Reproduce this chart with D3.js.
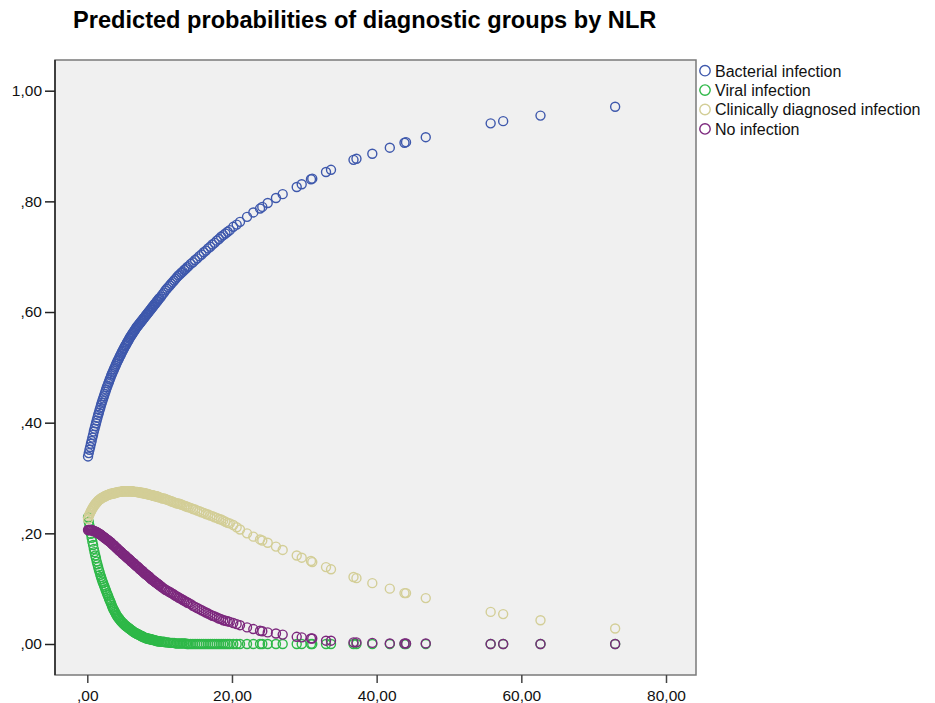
<!DOCTYPE html>
<html>
<head>
<meta charset="utf-8">
<script src="https://cdn.jsdelivr.net/npm/d3@7"></script>
<style>
  html, body { margin: 0; padding: 0; background: #ffffff; }
  svg { display: block; font-family: 'Liberation Sans', Arial, sans-serif; }
</style>
</head>
<body>
<svg width="935" height="703"></svg>
<script>
// NLR value of each patient (shared by the four predicted probabilities)
const nlr = [
  0.1, 0.2, 0.3, 0.4, 0.5, 0.6, 0.7, 0.8, 0.9, 1.0,
  1.1, 1.2, 1.3, 1.4, 1.5, 1.6, 1.7, 1.8, 1.9, 2.0,
  2.1, 2.2, 2.3, 2.4, 2.5, 2.6, 2.7, 2.8, 2.9, 3.0,
  3.1, 3.2, 3.3, 3.4, 3.5, 3.6, 3.7, 3.8, 3.9, 4.0,
  4.1, 4.2, 4.3, 4.4, 4.5, 4.6, 4.7, 4.8, 4.9, 5.0,
  5.1, 5.2, 5.3, 5.4, 5.5, 5.6, 5.7, 5.8, 5.9, 6.0,
  6.1, 6.2, 6.3, 6.4, 6.5, 6.6, 6.7, 6.8, 6.9, 7.0,
  7.1, 7.2, 7.3, 7.4, 7.5, 7.6, 7.7, 7.8, 7.9, 8.0,
  8.1, 8.2, 8.3, 8.4, 8.5, 8.6, 8.7, 8.8, 8.9, 9.0,
  9.1, 9.2, 9.3, 9.4, 9.5, 9.6, 9.7, 9.8, 9.9, 10.0,
  10.2, 10.4, 10.6, 10.8, 11.0, 11.2, 11.4, 11.6, 11.8, 12.0,
  12.2, 12.4, 12.6, 12.8, 13.0, 13.2, 13.4, 13.6, 13.8, 14.0,
  14.3, 14.6, 14.9, 15.2, 15.5, 15.8, 16.1, 16.4, 16.7, 17.0,
  17.3, 17.6, 17.9, 18.2, 18.5, 18.8, 19.1, 19.4, 19.7,
  20.18, 20.65, 21.11, 22.08, 22.95, 23.88, 24.19, 24.94, 26.08, 27.01,
  28.95, 29.64, 30.92, 31.10, 33.0, 33.69, 36.8, 37.21, 39.4, 41.82,
  43.85, 44.06, 46.79, 55.76, 57.49, 62.65, 72.97
];

const pBacterial = [
  0.339, 0.345, 0.351, 0.356, 0.362, 0.367, 0.373, 0.378, 0.384, 0.389,
  0.394, 0.399, 0.404, 0.409, 0.414, 0.418, 0.423, 0.427, 0.432, 0.436,
  0.440, 0.444, 0.448, 0.452, 0.456, 0.460, 0.464, 0.467, 0.471, 0.474,
  0.478, 0.481, 0.485, 0.488, 0.491, 0.494, 0.497, 0.500, 0.503, 0.506,
  0.509, 0.512, 0.514, 0.517, 0.520, 0.522, 0.525, 0.528, 0.530, 0.533,
  0.535, 0.538, 0.540, 0.542, 0.545, 0.547, 0.549, 0.552, 0.554, 0.556,
  0.558, 0.560, 0.562, 0.564, 0.566, 0.568, 0.570, 0.572, 0.574, 0.575,
  0.577, 0.579, 0.580, 0.582, 0.584, 0.585, 0.587, 0.589, 0.590, 0.592,
  0.594, 0.595, 0.597, 0.599, 0.600, 0.602, 0.604, 0.605, 0.607, 0.609,
  0.610, 0.612, 0.614, 0.615, 0.617, 0.619, 0.620, 0.622, 0.624, 0.625,
  0.628, 0.632, 0.635, 0.639, 0.642, 0.645, 0.648, 0.651, 0.654, 0.657,
  0.660, 0.663, 0.666, 0.668, 0.671, 0.673, 0.676, 0.678, 0.681, 0.683,
  0.687, 0.690, 0.694, 0.697, 0.701, 0.704, 0.708, 0.711, 0.715, 0.718,
  0.722, 0.725, 0.729, 0.732, 0.736, 0.739, 0.742, 0.745, 0.748,
  0.754, 0.758, 0.763, 0.772, 0.780, 0.787, 0.790, 0.797, 0.806, 0.813,
  0.826, 0.831, 0.840, 0.841, 0.853, 0.857, 0.875, 0.877, 0.886, 0.897,
  0.906, 0.907, 0.916, 0.941, 0.945, 0.955, 0.971
];

const pViral = [
  0.229, 0.221, 0.214, 0.206, 0.199, 0.192, 0.185, 0.179, 0.172, 0.166,
  0.160, 0.155, 0.149, 0.144, 0.139, 0.134, 0.130, 0.125, 0.121, 0.117,
  0.113, 0.110, 0.106, 0.103, 0.099, 0.096, 0.092, 0.089, 0.086, 0.082,
  0.079, 0.076, 0.073, 0.069, 0.066, 0.063, 0.061, 0.058, 0.056, 0.053,
  0.051, 0.049, 0.047, 0.046, 0.044, 0.042, 0.041, 0.039, 0.038, 0.037,
  0.035, 0.034, 0.033, 0.032, 0.031, 0.030, 0.029, 0.028, 0.027, 0.026,
  0.025, 0.024, 0.023, 0.022, 0.021, 0.020, 0.020, 0.019, 0.018, 0.018,
  0.017, 0.016, 0.016, 0.015, 0.014, 0.014, 0.013, 0.012, 0.012, 0.011,
  0.011, 0.010, 0.010, 0.010, 0.009, 0.009, 0.009, 0.008, 0.008, 0.008,
  0.007, 0.007, 0.007, 0.006, 0.006, 0.006, 0.005, 0.005, 0.005, 0.005,
  0.004, 0.004, 0.004, 0.003, 0.003, 0.003, 0.002, 0.002, 0.002, 0.002,
  0.001, 0.001, 0.001, 0.001, 0.001, 0.001, 0.001, 0.001, 0, 0,
  0, 0, 0, 0, 0, 0, 0, 0, 0, 0,
  0, 0, 0, 0, 0, 0, 0, 0, 0,
  0, 0, 0, 0, 0, 0, 0, 0, 0, 0,
  0, 0, 0, 0, 0, 0, 0, 0, 0, 0,
  0, 0, 0, 0, 0, 0, 0
];

const pClinical = [
  0.226, 0.231, 0.234, 0.237, 0.240, 0.242, 0.245, 0.247, 0.249, 0.251,
  0.253, 0.254, 0.256, 0.257, 0.259, 0.260, 0.261, 0.262, 0.263, 0.264,
  0.265, 0.265, 0.266, 0.267, 0.267, 0.268, 0.269, 0.269, 0.270, 0.270,
  0.271, 0.271, 0.271, 0.272, 0.272, 0.272, 0.273, 0.273, 0.273, 0.274,
  0.274, 0.274, 0.275, 0.275, 0.275, 0.275, 0.275, 0.276, 0.276, 0.276,
  0.276, 0.276, 0.276, 0.276, 0.276, 0.276, 0.276, 0.276, 0.276, 0.276,
  0.276, 0.276, 0.276, 0.275, 0.275, 0.275, 0.275, 0.275, 0.275, 0.274,
  0.274, 0.274, 0.274, 0.274, 0.273, 0.273, 0.273, 0.273, 0.272, 0.272,
  0.272, 0.271, 0.271, 0.271, 0.270, 0.270, 0.270, 0.269, 0.269, 0.269,
  0.268, 0.268, 0.268, 0.267, 0.267, 0.267, 0.266, 0.266, 0.265, 0.265,
  0.264, 0.263, 0.263, 0.262, 0.261, 0.260, 0.259, 0.258, 0.257, 0.256,
  0.255, 0.254, 0.254, 0.253, 0.252, 0.251, 0.250, 0.249, 0.248, 0.247,
  0.246, 0.244, 0.243, 0.241, 0.240, 0.238, 0.237, 0.235, 0.234, 0.232,
  0.231, 0.229, 0.228, 0.226, 0.225, 0.223, 0.221, 0.219, 0.218,
  0.215, 0.211, 0.207, 0.200, 0.194, 0.189, 0.187, 0.183, 0.176, 0.170,
  0.160, 0.156, 0.150, 0.148, 0.139, 0.135, 0.121, 0.119, 0.110, 0.100,
  0.092, 0.092, 0.083, 0.058, 0.054, 0.043, 0.028
];

const pNone = [
  0.206, 0.206, 0.206, 0.206, 0.206, 0.206, 0.205, 0.205, 0.204, 0.204,
  0.203, 0.203, 0.202, 0.201, 0.200, 0.200, 0.199, 0.198, 0.197, 0.196,
  0.195, 0.194, 0.193, 0.192, 0.191, 0.190, 0.189, 0.188, 0.187, 0.186,
  0.185, 0.184, 0.183, 0.181, 0.180, 0.179, 0.178, 0.177, 0.175, 0.174,
  0.173, 0.172, 0.170, 0.169, 0.168, 0.167, 0.166, 0.164, 0.163, 0.162,
  0.161, 0.160, 0.159, 0.157, 0.156, 0.155, 0.154, 0.153, 0.152, 0.150,
  0.149, 0.148, 0.147, 0.146, 0.145, 0.143, 0.142, 0.141, 0.140, 0.139,
  0.138, 0.136, 0.135, 0.134, 0.133, 0.132, 0.131, 0.129, 0.128, 0.127,
  0.126, 0.125, 0.124, 0.123, 0.122, 0.121, 0.119, 0.118, 0.117, 0.116,
  0.115, 0.114, 0.113, 0.112, 0.111, 0.110, 0.109, 0.108, 0.107, 0.106,
  0.104, 0.102, 0.100, 0.098, 0.097, 0.095, 0.094, 0.092, 0.091, 0.089,
  0.087, 0.086, 0.084, 0.083, 0.081, 0.080, 0.078, 0.077, 0.075, 0.074,
  0.072, 0.069, 0.067, 0.065, 0.063, 0.061, 0.059, 0.057, 0.055, 0.053,
  0.051, 0.050, 0.048, 0.046, 0.045, 0.043, 0.042, 0.041, 0.040,
  0.038, 0.036, 0.034, 0.030, 0.027, 0.024, 0.023, 0.021, 0.019, 0.017,
  0.013, 0.012, 0.010, 0.010, 0.006, 0.006, 0.003, 0.003, 0.002, 0.001,
  0.001, 0.001, 0.001, 0, 0, 0, 0
];

const groups = ['Bacterial infection', 'Viral infection', 'Clinically diagnosed infection', 'No infection'];
const xTicks = [0, 20, 40, 60, 80];
const yTicks = [0, 0.2, 0.4, 0.6, 0.8, 1.0];
const title = 'Predicted probabilities of diagnostic groups by NLR';

// --- layout ---
const svg = d3.select('svg');
const frame = { left: 55, right: 696, top: 60, bottom: 675 };
const colors = ['#3e58ac', '#2eb848', '#d3ce97', '#7c287d'];

// SPSS style number: ",80" / "1,00"
const fmt = v => d3.format('.2f')(v).replace('.', ',').replace(/^0,/, ',');

const x = d3.scaleLinear().domain([0, 80]).range([87.3, 666]);
const y = d3.scaleLinear().domain([0, 1]).range([644, 90.7]);

// plot area
svg.append('rect')
    .attr('x', frame.left)
    .attr('y', frame.top)
    .attr('width', frame.right - frame.left)
    .attr('height', frame.bottom - frame.top)
    .attr('fill', '#f0f0f0')
    .attr('stroke', '#7a7a7a')
    .attr('stroke-width', 1.5);

// --- axes ---
const axisY = svg.append('g')
    .attr('transform', `translate(${frame.left},0)`)
    .call(d3.axisLeft(y).tickValues(yTicks).tickFormat(fmt).tickSize(10).tickPadding(3));
axisY.select('.domain').remove();
axisY.selectAll('line').attr('stroke', '#222').attr('stroke-width', 1.5);
axisY.selectAll('text')
    .attr('font-size', 15.5)
    .attr('font-family', "'Liberation Sans', Arial, sans-serif")
    .attr('fill', '#111');

const axisX = svg.append('g')
    .attr('transform', `translate(0,${frame.bottom})`)
    .call(d3.axisBottom(x).tickValues(xTicks).tickFormat(fmt).tickSize(8));
axisX.select('.domain').remove();
axisX.selectAll('line').attr('stroke', '#444').attr('stroke-width', 1.5);
axisX.selectAll('text')
    .attr('y', 26)
    .attr('dy', 0)
    .attr('font-size', 15.5)
    .attr('font-family', "'Liberation Sans', Arial, sans-serif")
    .attr('fill', '#111');

// left axis line in black over the frame
svg.append('line')
    .attr('x1', frame.left).attr('x2', frame.left)
    .attr('y1', frame.top).attr('y2', frame.bottom)
    .attr('stroke', '#222').attr('stroke-width', 1.5);

// --- points (purple drawn last, on top) ---
const series = [pBacterial, pViral, pClinical, pNone];
const plot = svg.append('g');
series.forEach((vals, i) => {
    plot.append('g')
        .selectAll('circle')
        .data(nlr.map((v, j) => ({ x: v, p: vals[j] })))
        .join('circle')
            .attr('cx', d => x(d.x))
            .attr('cy', d => y(d.p))
            .attr('r', 4.5)
            .attr('fill', 'none')
            .attr('stroke', colors[i])
            .attr('stroke-width', 1.4);
});

// --- legend ---
const legend = svg.append('g')
    .selectAll('g')
    .data(groups)
    .join('g')
    .attr('transform', (d, i) => `translate(705,${70.7 + i * 19.4})`);

legend.append('circle')
    .attr('r', 5.2)
    .attr('fill', 'none')
    .attr('stroke', (d, i) => colors[i])
    .attr('stroke-width', 1.4);

legend.append('text')
    .attr('x', 10)
    .attr('y', 5.8)
    .attr('font-size', 16)
    .attr('fill', '#111')
    .text(d => d);

// title
svg.append('text')
    .attr('x', 73)
    .attr('y', 28)
    .attr('font-size', 23.6)
    .attr('font-weight', 'bold')
    .attr('fill', '#000')
    .text(title);
</script>
</body>
</html>
